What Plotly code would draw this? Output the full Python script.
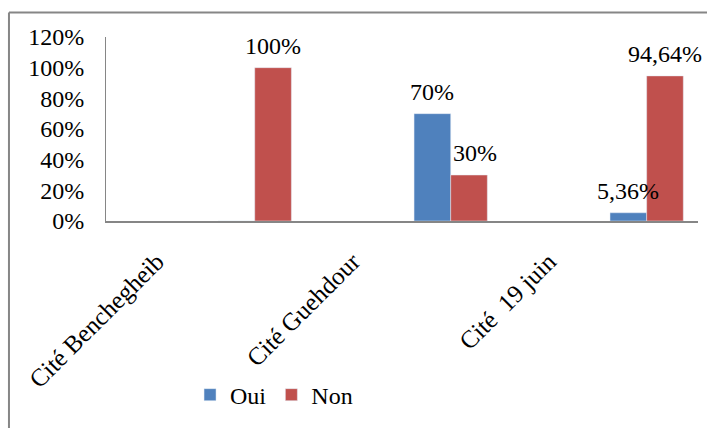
import plotly.graph_objects as go

categories = ["Cité Benchegheib", "Cité Guehdour", "Cité  19 juin"]
oui = [0, 70, 5.36]
non = [100, 30, 94.64]
series_names = ["Oui", "Non"]
colors = ["#4F81BD", "#C0504D"]
y_ticks = [0, 20, 40, 60, 80, 100, 120]
y_tick_labels = [f"{v}%" for v in y_ticks]


def fmt(v):
    return "" if v == 0 else f"{v:g}".replace(".", ",") + "%"


FONT = "Liberation Serif"
FS = 24

W, H = 707, 428
ML, MR, MT, MB = 106, 9, 37, 207
r0, r1 = -0.759, 2.262
BARGAP = 0.626
unit_px = (W - ML - MR) / (r1 - r0)
half_bar_px = (1 - BARGAP) / 2 * unit_px / 2

fig = go.Figure()
for name, vals, col in zip(series_names, [oui, non], colors):
    fig.add_trace(go.Bar(x=categories, y=vals, name=name, marker_color=col,
                         cliponaxis=False))

# value labels above each bar (Non labels nudged right when the Oui bar beside is taller)
series = [oui, non]
for k, vals in enumerate(series):
    sign = -1 if k == 0 else 1
    for i, (c, v) in enumerate(zip(categories, vals)):
        if v == 0:
            continue
        nudge = 6 if (k == 1 and oui[i] > v) else 0
        fig.add_annotation(x=c, y=v, text=fmt(v), showarrow=False,
                           xanchor="center", yanchor="bottom",
                           xshift=sign * half_bar_px + nudge, yshift=7,
                           font=dict(family=FONT, size=FS, color="black"))

# invisible helper trace for the shifted category labels axis
fig.add_trace(go.Scatter(x=list(range(len(categories))), y=[None] * len(categories),
                         xaxis="x2", showlegend=False, hoverinfo="skip"))

fig.update_layout(
    width=W, height=H,
    margin=dict(l=ML, r=MR, t=MT, b=MB, autoexpand=False),
    paper_bgcolor="white", plot_bgcolor="white",
    barmode="group", bargap=BARGAP, bargroupgap=0,
    font=dict(family=FONT, size=FS, color="black"),
    xaxis=dict(type="category", range=[r0, r1], showticklabels=False,
               showline=True, linecolor="#868686", linewidth=2,
               showgrid=False, zeroline=False, ticks=""),
    xaxis2=dict(overlaying="x", anchor="y", side="bottom",
                range=[r0 + 0.5, r1 + 0.5],
                tickmode="array", tickvals=list(range(len(categories))),
                ticktext=categories, tickangle=-45,
                tickfont=dict(family=FONT, size=25, color="black"),
                showline=False, showgrid=False, zeroline=False, ticks="",
                ticklabelstandoff=20),
    yaxis=dict(range=[0, 120], tickmode="array", tickvals=y_ticks, ticktext=y_tick_labels,
               showline=True, linecolor="#868686", linewidth=1,
               showgrid=False, zeroline=False, ticks="",
               tickfont=dict(family=FONT, size=FS, color="black"),
               ticklabelstandoff=16),
    legend=dict(orientation="h", xref="container", yref="container",
                x=0.3876, xanchor="center", y=0.077, yanchor="middle",
                font=dict(family=FONT, size=FS, color="black"),
                itemwidth=30, tracegroupgap=0),
    showlegend=True,
)

# chart frame (cropped on right and bottom)
fig.add_shape(type="line", xref="paper", yref="paper",
              x0=-0.1639, y0=-1.2, x1=-0.1639, y1=1.1332,
              line=dict(color="#868686", width=2))
fig.add_shape(type="line", xref="paper", yref="paper",
              x0=-0.1639, y0=1.1332, x1=1.1, y1=1.1332,
              line=dict(color="#868686", width=2))

fig.write_html("out.html", config={"displayModeBar": False},
               post_script="document.body.style.margin='0';document.body.style.overflow='hidden';")
